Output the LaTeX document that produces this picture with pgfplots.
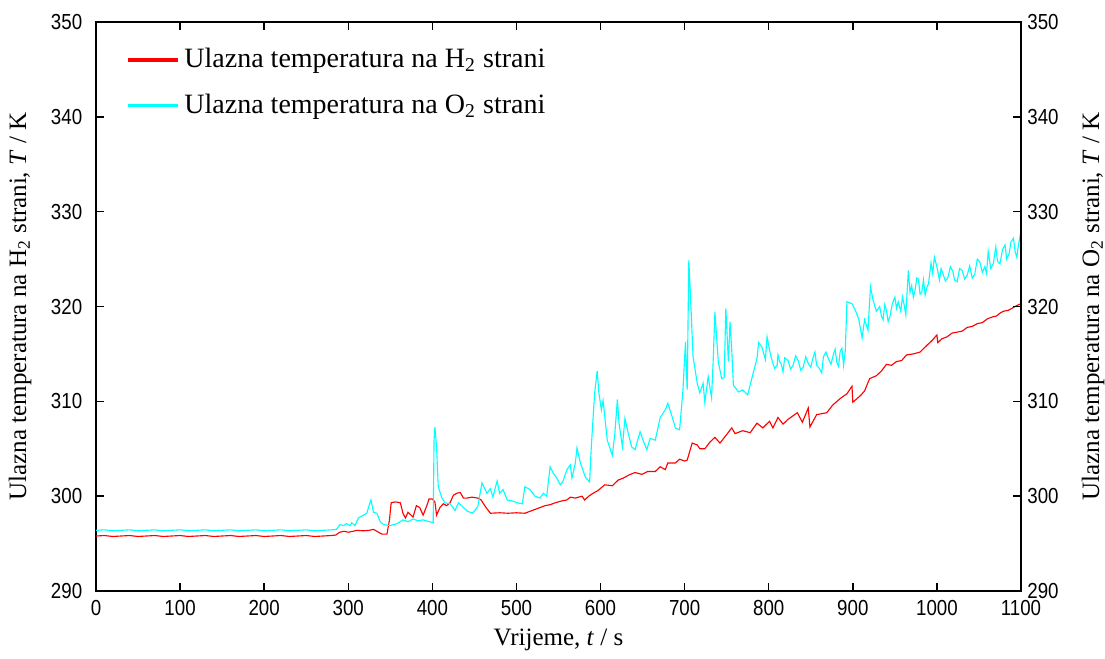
\documentclass[border=0pt]{standalone}
\usepackage{fontspec}
\setmainfont{Liberation Serif}
\newfontfamily\ticksans[FakeStretch=0.86]{Liberation Sans}
\usepackage{pgfplots}
\pgfplotsset{compat=1.18}
\definecolor{cyanline}{RGB}{0,255,255}
\definecolor{redline}{RGB}{255,0,0}
\begin{document}
\begin{tikzpicture}
\pgfplotsset{
  common/.style={
    scale only axis, width=370pt, height=227.6pt,
    xmin=0, xmax=1100, ymin=290, ymax=350,
    xtick={0,100,...,1100}, ytick={290,300,...,350},
    tick align=inside, major tick length=3.2pt,
    axis line style={line width=0.8pt},
    tick style={black, line width=0.6pt},
    /pgf/number format/assume math mode=true,
    ticklabel style={font=\ticksans\fontsize{8.7}{10}\selectfont},
    /pgf/number format/1000 sep={},
    label style={font=\fontsize{10.2}{12}\selectfont},
  }
}
\begin{axis}[common,
  xtick pos=both, xticklabel pos=bottom, ytick pos=left,
  yticklabel style={xshift=-2pt},
  xlabel={Vrijeme, \textit{t} / s},
  every axis x label/.style={at={(axis description cs:0.5,-0.086)}, anchor=center},
  ylabel={Ulazna temperatura na H\textsubscript{2} strani, \textit{T} / K},
  every axis y label/.style={at={(axis description cs:-0.082,0.5)}, rotate=90, anchor=center},
  legend style={at={(axis description cs:0.024,0.972)}, anchor=north west, draw=none, fill=none,
    font=\fontsize{11.2}{13}\selectfont, row sep=5pt, cells={anchor=west}},
  legend image code/.code={\draw[#1, line width=1.3pt] (0pt,0pt) -- (20pt,0pt);},
]
\addplot[redline, line width=0.45pt] coordinates {
(0,295.8) (10,295.85) (20,295.75) (30,295.8) (40,295.85) (50,295.75) (60,295.8) (70,295.85) (80,295.75) (90,295.8)
(100,295.85) (110,295.75) (120,295.8) (130,295.85) (140,295.75) (150,295.8) (160,295.85) (170,295.75) (180,295.8) (190,295.85)
(200,295.75) (210,295.8) (220,295.85) (230,295.75) (240,295.8) (250,295.85) (260,295.75) (270,295.8) (280,295.85)
(285,295.9) (290,296.2) (295,296.3) (300,296.2) (306,296.3) (310,296.4) (318,296.35) (325,296.4) (330,296.5) (334,296.3)
(340,296.0) (346,296.0) (349,297.5) (351,299.3) (356,299.4) (362,299.3) (365,298.2) (368,297.7) (371,298.3) (377,297.8)
(381,299.0) (385,298.8) (389,298.0) (393,298.9) (396,299.7) (400,299.7) (403,299.4) (405,298.0) (409,298.8) (413,299.2)
(417,299.0) (421,299.3) (425,300.1) (429,300.3) (433,300.4) (437,299.8) (441,299.8) (447,299.9) (454,299.8) (458,299.6)
(463,298.9) (469,298.2) (480,298.25) (490,298.2) (500,298.25) (510,298.2) (516,298.4) (522,298.6) (528,298.8) (534,299.0)
(540,299.1) (546,299.3) (554,299.5) (560,299.6) (564,299.9) (570,299.8) (578,300.0) (581,299.6) (586,300.0) (591,300.3)
(597,300.6) (605,301.2) (614,301.1) (621,301.7) (627,301.9) (633,302.2) (641,302.5) (649,302.3) (656,302.6) (665,302.6)
(671,303.1) (677,302.8) (680,303.5) (689,303.5) (694,303.9) (700,303.7) (703,303.8) (709,305.6) (715,305.4) (718,305.0)
(724,305.0) (730,305.7) (736,306.2) (742,305.6) (750,306.5) (756,307.2) (760,306.6) (769,306.9) (778,306.7) (786,307.7)
(793,307.2) (801,307.9) (805,307.2) (811,308.3) (817,307.6) (823,308.1) (834,308.8) (840,307.8) (847,309.3) (849,307.3)
(857,308.6) (869,308.8) (876,309.6) (885,310.3) (893,310.8) (899,311.6) (900,309.9) (909,310.6) (914,311.1) (920,312.4)
(928,312.7) (934,313.2) (940,313.9) (946,313.8) (952,314.2) (958,314.3) (964,314.9) (972,315.0) (980,315.2) (988,315.9) (994,316.4) (1000,317.0) (1001,316.2) (1006,316.6) (1012,316.8)
(1018,317.2) (1024,317.3) (1030,317.4) (1036,317.8) (1042,317.9) (1048,318.2) (1054,318.3) (1060,318.7) (1066,318.9) (1071,319.0) (1075,319.3) (1079,319.5) (1085,319.6) (1091,319.9) (1095,320.1) (1100,320.3)
};
\addlegendentry{Ulazna temperatura na H\textsubscript{2} strani}
\addplot[cyanline, line width=0.45pt] coordinates {
(0,296.4) (10,296.45) (20,296.35) (30,296.4) (40,296.45) (50,296.35) (60,296.4) (70,296.45) (80,296.35) (90,296.4)
(100,296.45) (110,296.35) (120,296.4) (130,296.45) (140,296.35) (150,296.4) (160,296.45) (170,296.35) (180,296.4) (190,296.45)
(200,296.35) (210,296.4) (220,296.45) (230,296.35) (240,296.4) (250,296.45) (260,296.35) (270,296.4) (280,296.45)
(286,296.5) (290,297.0) (294,296.9) (298,297.1) (302,296.9) (304,297.2) (308,296.9) (312,297.7) (318,298.0) (322,298.2)
(324,298.8) (327,299.6) (330,298.3) (334,298.2) (338,297.3) (342,297.0) (350,296.9) (358,297.1) (365,297.5) (371,297.3)
(377,297.6) (383,297.4) (389,297.5) (393,297.4) (397,297.3) (401,297.2) (402,305.9) (403,307.3) (405,305.2) (407,301.0)
(411,299.9) (415,299.3) (421,299.2) (427,298.5) (431,299.3) (437,298.8) (442,298.4) (448,298.2) (454,298.9) (459,301.4)
(465,300.3) (469,300.8) (472,299.9) (477,301.6) (480,300.3) (484,300.7) (489,299.6) (495,299.5) (501,299.3) (507,299.2)
(510,301.0) (516,300.7) (522,300.0) (528,299.8) (532,300.3) (536,300.0) (540,303.1) (544,302.4) (548,301.9) (552,301.2)
(555,301.5) (560,302.8) (564,303.3) (566,301.9) (570,303.5) (572,305.1) (576,303.5) (582,302.0) (587,301.5) (589,305.2)
(593,310.9) (596,313.2) (598,310.9) (601,309.1) (603,310.1) (608,305.9) (614,304.3) (617,306.6) (620,310.2) (622,307.7)
(626,305.2) (629,308.2) (633,306.6) (637,305.2) (641,304.9) (647,306.8) (651,305.8) (655,304.9) (659,306.1) (665,305.9)
(671,308.3) (677,309.1) (680,309.8) (685,308.4) (689,307.2) (694,307.0) (698,311.2) (701,316.3) (703,311.2) (705,324.9)
(708,318.9) (710,314.7) (715,311.9) (718,310.9) (722,311.9) (724,309.9) (728,312.6) (732,310.4) (734,314.4) (736,319.4)
(740,314.2) (744,312.4) (747,312.5) (749,319.8) (752,314.2) (754,318.4) (756,315.4) (758,311.7) (764,311.0) (769,311.2)
(775,310.7) (781,312.8) (786,314.5) (788,316.2) (792,315.7) (796,314.4) (798,316.8)
(801,315.4) (803,314.6) (805,314.0) (807,313.5) (810,313.8) (811,314.9) (813,314.2) (815,313.9) (817,313.1) (819,314.6) (823,314.3) (826,313.4) (829,313.8) (832,314.8) (835,314.3) (838,313.3) (841,313.6) (844,314.7) (847,314.0) (850,313.6) (853,314.7) (855,315.2) (857,313.8) (860,313.5) (863,313.0) (865,314.7) (868,315.2) (871,314.5) (874,313.9) (877,315.0) (879,315.5) (881,314.1) (883,313.7) (885,315.3) (887,315.6) (889,313.8) (891,315.3)
(893,320.5) (899,320.3) (903,319.6)
(907,318.7) (911,316.7) (914,318.6) (918,317.5) (921,322.1) (924,320.7) (928,319.5)
(932,320.0) (934,319.0) (936,318.6) (938,320.2) (940,319.6) (942,318.4) (944,318.9) (947,320.3) (950,321.0) (952,319.8) (954,320.5) (957,319.5) (959,321.0) (961,320.2) (963,319.1) (966,323.8) (968,321.5) (970,322.2) (972,321.0) (974,321.7) (976,323.0) (978,322.9) (980,321.3) (982,321.5) (984,322.8) (986,321.2) (988,322.0) (990,322.4) (993,324.6) (995,323.5) (997,325.2) (1000,324.2) (1003,322.8) (1005,324.0) (1007,323.5) (1010,322.7) (1013,323.0) (1016,324.2) (1019,323.7) (1021,322.8) (1024,322.6) (1027,324.0) (1030,323.8) (1033,322.9) (1036,323.3) (1039,324.3) (1042,323.0) (1045,323.4) (1048,325.0) (1051,324.7) (1054,323.6) (1057,324.2) (1059,323.5) (1061,325.8) (1064,324.0) (1067,324.5) (1070,326.3) (1072,324.8) (1075,324.5) (1078,326.0) (1081,326.5) (1083,325.0) (1086,325.6) (1088,326.8) (1091,327.2) (1093,325.8) (1095,325.2) (1097,326.5) (1099,327.5) (1100,326.0)
};
\addlegendentry{Ulazna temperatura na O\textsubscript{2} strani}
\end{axis}
\begin{axis}[common,
  hide x axis, axis y line*=right, ytick pos=right, yticklabel pos=right,
  yticklabel style={xshift=-1pt},
  ylabel={Ulazna temperatura na O\textsubscript{2} strani, \textit{T} / K},
  every axis y label/.style={at={(axis description cs:1.078,0.5)}, rotate=90, anchor=center},
]
\end{axis}
\pgfresetboundingbox
\path (-38.4pt,-26.8pt) rectangle (403.6pt,236.4pt);
\end{tikzpicture}
\end{document}
